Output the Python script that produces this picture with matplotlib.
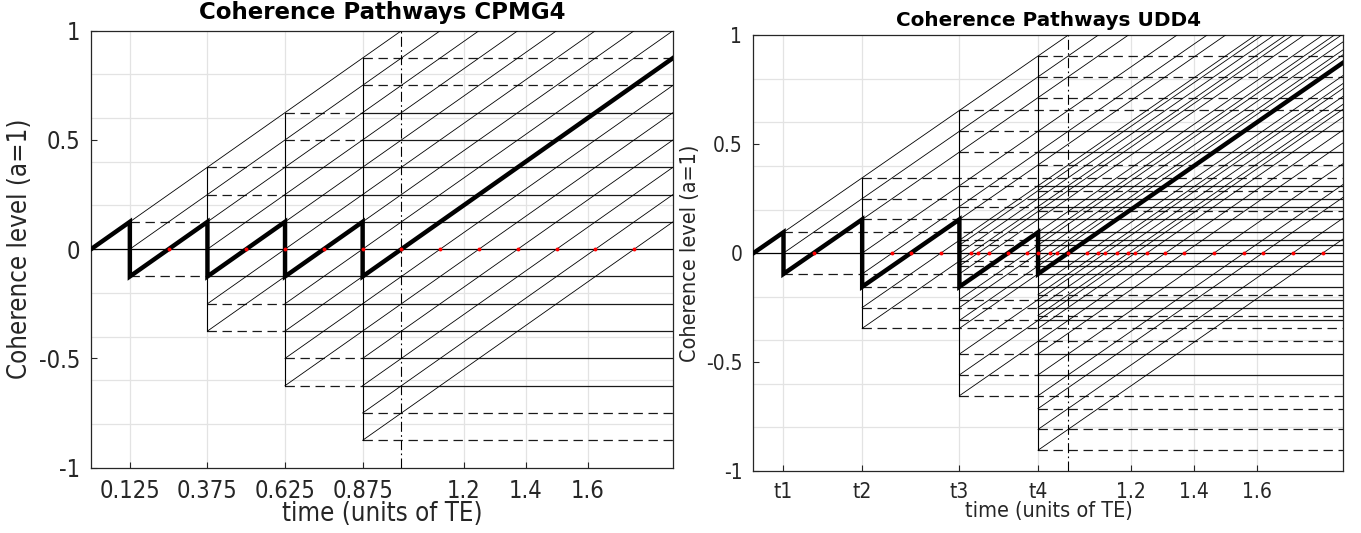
import matplotlib
matplotlib.use("Agg")
import matplotlib.pyplot as plt

# time axis (units of TE)
T_END = 1.875
ECHO_TIME = 1.0

# refocusing pulse times
cpmg_pulses = [0.125, 0.375, 0.625, 0.875]
udd_pulses = [0.0955, 0.3455, 0.6545, 0.9045]

# tick positions and labels
cpmg_xticks = [0.125, 0.375, 0.625, 0.875, 1.2, 1.4, 1.6]
cpmg_xticklabels = ["0.125", "0.375", "0.625", "0.875", "1.2", "1.4", "1.6"]
udd_xticks = udd_pulses + [1.2, 1.4, 1.6]
udd_xticklabels = ["t1", "t2", "t3", "t4", "1.2", "1.4", "1.6"]
yticks = [-1, -0.5, 0, 0.5, 1]
yticklabels = ["-1", "-0.5", "0", "0.5", "1"]
ygrid = [-0.8, -0.6, -0.4, -0.2, 0.2, 0.4, 0.6, 0.8]

TICK_FONT = dict(family="DejaVu Sans", stretch="condensed")


def key(v):
    return round(v, 9)


def pathways(pulses):
    """Track transverse (F) and stored (Z) dephasing states through the pulses."""
    F = {0.0}
    Z = set()
    diag = {0.0: 0.0}          # intercept of y = x + c  ->  start time
    verticals = []
    stored = []
    t_prev = 0.0
    for tp in pulses:
        F = {key(f + tp - t_prev) for f in F}
        verticals.append((tp, max(abs(f) for f in F)))
        stored.append({abs(f) for f in F if abs(f) > 1e-9})
        new_F = set(F) | {key(-f) for f in F} | {key(-z) for z in Z} | {0.0}
        Z = Z | set(F)
        F = new_F
        for f in F:
            c = key(f - tp)
            if c not in diag:
                diag[c] = tp
        t_prev = tp
    crossings = sorted({-c for c, x0 in diag.items() if c < 0 and x0 < -c < T_END})
    return diag, verticals, stored, crossings


def echo_path(pulses):
    xs, ys = [0.0], [0.0]
    phase, t_prev = 0.0, 0.0
    for tp in pulses:
        phase += tp - t_prev
        xs.append(tp); ys.append(phase)
        phase = -phase
        xs.append(tp); ys.append(phase)
        t_prev = tp
    xs.append(T_END); ys.append(phase + T_END - t_prev)
    return xs, ys


def draw(ax, pulses, xticks, xticklabels, title, fs_tick, fs_label, fs_title, title_y):
    diag, verticals, stored, crossings = pathways(pulses)

    for g in ygrid:
        ax.axhline(g, color="#e3e3e3", lw=0.9, zorder=0)
    for xt in xticks:
        ax.axvline(xt, color="#e3e3e3", lw=0.9, zorder=0)

    # stored (longitudinal) states: dashed, solid once an older storage overlaps
    seen = set()
    first = {}
    solid_from = {}
    for k, levels in enumerate(stored):
        for v in levels:
            v = key(v)
            if v not in first:
                first[v] = k
            elif v in seen and v not in solid_from:
                solid_from[v] = k
        seen |= {key(v) for v in levels}
    for v, k0 in first.items():
        x0 = pulses[k0]
        xs = pulses[solid_from[v]] if v in solid_from else T_END
        for s in (1, -1):
            ax.plot([x0, xs], [s * v, s * v], color="#1a1a1a", lw=0.9,
                    linestyle=(0, (7.5, 4.5)), zorder=2)
            if xs < T_END:
                ax.plot([xs, T_END], [s * v, s * v], color="#1a1a1a", lw=0.9, zorder=2)

    ax.axhline(0, color="black", lw=0.9, zorder=2)

    # transverse states: slope-one dephasing lines
    for c, x0 in diag.items():
        ax.plot([x0, T_END], [x0 + c, T_END + c], color="black", lw=0.6, zorder=3)

    for tp, h in verticals:
        ax.plot([tp, tp], [-h, h], color="black", lw=0.8, zorder=3)

    ax.axvline(ECHO_TIME, color="black", lw=0.8, linestyle=(0, (9, 3, 1.5, 3)), zorder=3)

    xs, ys = echo_path(pulses)
    ax.plot(xs, ys, color="black", lw=3.2, zorder=4, solid_joinstyle="miter")

    ax.plot(crossings, [0] * len(crossings), "o", color="red", ms=2.8,
            mec="none", zorder=5)

    ax.set_xlim(0, T_END)
    ax.set_ylim(-1, 1)
    ax.set_xticks(xticks)
    ax.set_xticklabels(xticklabels, fontsize=fs_tick, **TICK_FONT, color="#262626")
    ax.set_yticks(yticks)
    ax.set_yticklabels(yticklabels, fontsize=fs_tick, **TICK_FONT, color="#262626")
    ax.tick_params(direction="in", length=4, width=0.8, pad=8, colors="#262626",
                   top=False, right=False)
    for sp in ax.spines.values():
        sp.set_color("#262626")
        sp.set_linewidth(0.9)
    ax.set_xlabel("time (units of TE)", fontsize=fs_label, color="#262626",
                  labelpad=-1, **TICK_FONT)
    ax.set_ylabel("Coherence level (a=1)", fontsize=fs_label, color="#262626",
                  labelpad=4, **TICK_FONT)
    pos = ax.get_position()
    ax.figure.text((pos.x0 + pos.x1) / 2, title_y, title, fontsize=fs_title,
                   fontweight="bold", ha="center", va="center")


fig = plt.figure(figsize=(13.61, 5.33), dpi=100)
ax1 = fig.add_axes([0.0669, 0.1227, 0.4276, 0.8197])
ax2 = fig.add_axes([0.5536, 0.1163, 0.4335, 0.8177])

draw(ax1, cpmg_pulses, cpmg_xticks, cpmg_xticklabels, "Coherence Pathways CPMG4",
     fs_tick=17, fs_label=18.5, fs_title=16.5, title_y=0.976)
draw(ax2, udd_pulses, udd_xticks, udd_xticklabels, "Coherence Pathways UDD4",
     fs_tick=15, fs_label=15.5, fs_title=14.4, title_y=0.961)

fig.savefig("out.png", dpi=100)
